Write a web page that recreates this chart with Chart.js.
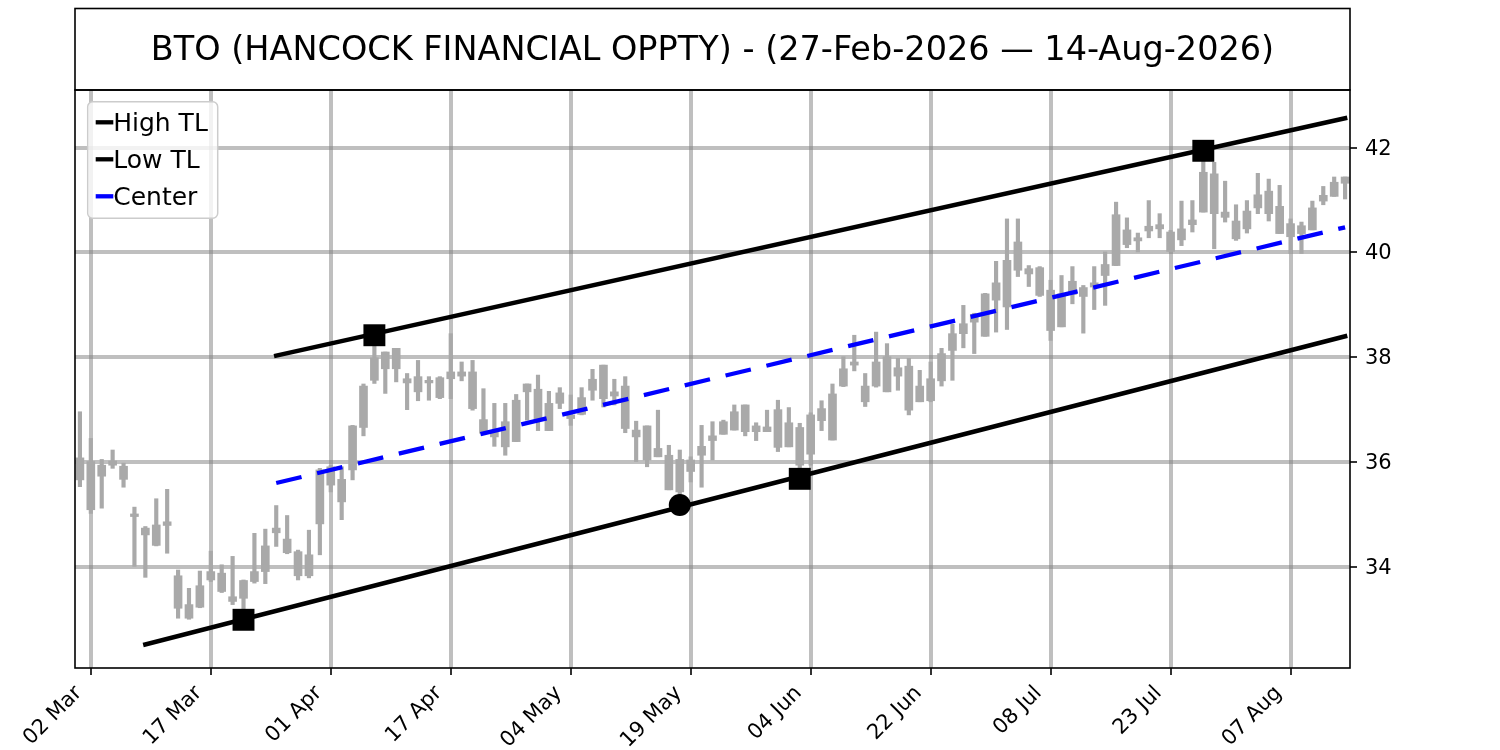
<!DOCTYPE html>
<html><head><meta charset="utf-8">
<script src="https://cdn.jsdelivr.net/npm/chart.js@4.4.1/dist/chart.umd.min.js"></script>
<style>html,body{margin:0;padding:0;background:#fff;}canvas{display:block;}</style>
</head><body>
<canvas id="c" width="1500" height="750"></canvas>
<script>
const titleText = 'BTO (HANCOCK FINANCIAL OPPTY) - (27-Feb-2026 \u2014 14-Aug-2026)';
const tickIndex = [1, 12, 23, 34, 45, 56, 67, 78, 89, 100, 111];
const tickLabels = ['02 Mar', '17 Mar', '01 Apr', '17 Apr', '04 May', '19 May', '04 Jun', '22 Jun', '08 Jul', '23 Jul', '07 Aug'];
const yTicks = [34, 36, 38, 40, 42];

const high = [36.96,36.45,36.05,36.23,35.98,35.14,34.77,35.30,35.48,33.94,
33.59,33.92,34.30,34.04,34.20,33.75,34.64,34.72,35.17,34.98,
34.32,34.70,35.88,35.94,35.91,36.70,37.49,38.42,38.10,38.17,
37.69,37.94,37.63,37.63,38.45,37.91,37.94,37.40,37.12,37.12,
37.29,37.49,37.66,37.35,37.42,37.28,37.42,37.77,37.85,37.58,
37.63,36.78,36.69,36.99,36.32,36.23,36.10,36.70,36.77,36.80,
37.09,37.09,36.75,36.99,37.18,37.04,36.74,36.94,37.17,37.49,
38.01,38.42,37.69,38.48,38.26,37.98,37.98,37.75,37.91,38.17,
38.63,38.99,38.84,39.22,39.83,40.64,40.64,39.75,39.73,39.47,
39.56,39.73,39.37,39.73,40.01,40.96,40.66,40.37,40.99,40.74,
40.42,40.98,40.99,41.94,41.72,41.36,40.91,40.99,41.51,41.40,
41.28,40.64,40.58,40.98,41.26,41.44,41.44];

const low = [35.53,35.02,35.12,35.88,35.52,34.01,33.80,34.40,34.26,33.02,
33.00,33.22,33.72,33.51,33.28,32.99,33.69,33.68,34.39,34.25,
33.75,33.79,34.23,35.43,34.90,35.66,36.50,37.50,37.31,37.53,
37.00,37.17,37.18,37.21,37.21,37.55,36.99,36.55,36.30,36.13,
36.39,36.80,36.60,36.60,37.02,36.70,36.90,37.18,37.05,37.09,
36.56,36.01,35.91,36.10,35.47,35.18,35.62,35.52,36.04,36.53,
36.61,36.50,36.41,36.58,36.20,36.29,35.68,35.94,36.60,36.42,
37.44,37.74,37.06,37.43,37.34,37.37,36.90,37.15,37.15,37.45,
37.56,38.18,38.07,38.40,38.48,38.53,39.54,39.35,39.16,38.32,
38.58,39.02,38.46,38.91,38.99,39.75,40.09,40.01,40.28,40.28,
40.01,40.13,40.39,40.77,40.07,40.58,40.23,40.37,40.74,40.60,
40.36,39.98,39.98,40.43,40.91,41.07,41.02];

const bodyTop = [36.08,36.01,35.94,36.02,35.92,35.01,34.74,34.80,34.86,33.83,
33.28,33.64,33.91,33.88,33.43,33.74,33.91,34.40,34.74,34.53,
34.29,34.23,35.85,35.91,35.67,36.69,37.45,37.99,38.10,38.17,
37.59,37.63,37.56,37.61,37.72,37.72,37.72,36.81,36.58,36.77,
37.18,37.49,37.39,37.12,37.32,36.90,37.23,37.58,37.85,37.34,
37.45,36.61,36.69,36.26,36.13,36.05,36.04,36.30,36.50,36.77,
36.96,37.09,36.69,36.67,37.00,36.75,36.66,36.90,37.02,37.30,
37.78,37.91,37.45,37.91,38.01,37.80,37.83,37.45,37.59,38.07,
38.45,38.64,38.82,39.21,39.42,39.85,40.20,39.69,39.71,39.28,
39.21,39.45,39.33,39.42,39.77,40.72,40.43,40.28,40.50,40.53,
40.39,40.45,40.62,41.53,41.50,40.77,40.60,40.79,41.10,41.17,
40.88,40.55,40.51,40.85,41.09,41.34,41.44];

const bodyBottom = [35.66,35.09,35.73,35.94,35.67,34.96,34.61,34.41,34.79,33.21,
33.02,33.23,33.75,33.53,33.34,33.40,33.72,33.91,34.65,34.27,
33.83,33.83,34.82,35.56,35.24,35.85,36.66,37.56,37.78,37.78,
37.51,37.34,37.51,37.23,37.59,37.64,37.02,36.55,36.48,36.29,
36.39,37.34,36.80,36.60,37.12,36.83,36.91,37.37,37.21,37.26,
36.64,36.48,36.04,36.10,35.47,35.43,35.82,36.13,36.41,36.53,
36.61,36.58,36.58,36.58,36.28,36.29,35.94,36.15,36.79,36.42,
37.45,37.85,37.15,37.45,37.34,37.64,36.99,37.15,37.17,37.55,
38.13,38.45,38.67,38.40,39.09,38.96,39.66,39.59,39.18,38.51,
38.58,39.20,39.16,39.34,39.56,39.75,40.15,40.22,40.41,40.45,
40.02,40.24,40.53,40.77,40.74,40.67,40.26,40.45,40.85,40.74,
40.36,40.30,40.36,40.43,40.98,41.07,41.32];

const highTLx = [18, 116];
const highTLy = [38.03, 42.56];
const lowTLx = [6, 116];
const lowTLy = [32.52, 38.40];
const centerX = [18, 116];
const centerY = [35.60, 40.48];
const pivotSquareX = [15, 27, 66, 103];
const pivotSquareY = [32.99, 38.42, 35.68, 41.94];
const pivotCircleX = [55];
const pivotCircleY = [35.18];

const FONT = 'DejaVu Sans';
const CANDLE = '#a9a9a9';
const GRID = 'rgba(128,128,128,0.5)';

const pts = (xs, ys) => xs.map((x, i) => ({x: x, y: ys[i]}));

const datasets = [
  {type: 'line', label: 'pivots', data: pts(pivotSquareX, pivotSquareY), showLine: false,
   pointStyle: 'rect', pointRadius: 15.5, pointHoverRadius: 15.5, pointBackgroundColor: '#000', pointBorderWidth: 0, order: 0},
  {type: 'line', label: 'pivot', data: pts(pivotCircleX, pivotCircleY), showLine: false,
   pointStyle: 'circle', pointRadius: 11, pointHoverRadius: 11, pointBackgroundColor: '#000', pointBorderWidth: 0, order: 0},
  {type: 'line', label: 'High TL', legend: true, data: pts(highTLx, highTLy), borderColor: '#000', borderWidth: 4.5,
   pointRadius: 0, borderCapStyle: 'square', order: 1},
  {type: 'line', label: 'Low TL', legend: true, data: pts(lowTLx, lowTLy), borderColor: '#000', borderWidth: 4.5,
   pointRadius: 0, borderCapStyle: 'square', order: 1},
  {type: 'line', label: 'Center', legend: true, data: pts(centerX, centerY), borderColor: '#0000ff', borderWidth: 4.3,
   borderDash: [26, 16], pointRadius: 0, borderCapStyle: 'butt', order: 1},
  {type: 'bar', label: 'body', data: bodyTop.map((t, i) => ({x: i, y: [bodyBottom[i], t]})),
   backgroundColor: CANDLE, borderWidth: 0, barThickness: 8, grouped: false, minBarLength: 1.5, order: 2},
  {type: 'bar', label: 'wick', data: high.map((h, i) => ({x: i, y: [low[i], h]})),
   backgroundColor: CANDLE, borderWidth: 0, barThickness: 3.5, grouped: false, order: 3}
];

const framePlugin = {
  id: 'frame',
  afterDraw(chart) {
    const {ctx, chartArea: a} = chart;
    ctx.save();
    ctx.strokeStyle = '#000';
    ctx.lineWidth = 1.6;
    ctx.strokeRect(a.left, a.top, a.right - a.left, a.bottom - a.top);
    ctx.strokeRect(a.left, 8.5, a.right - a.left, a.top - 8.5);
    // legend
    const items = chart.data.datasets.filter(d => d.legend);
    const bx = a.left + 12.7, by = a.top + 11.7, bw = 130, bh = 116.6, r = 5;
    ctx.beginPath();
    ctx.moveTo(bx + r, by);
    ctx.arcTo(bx + bw, by, bx + bw, by + bh, r);
    ctx.arcTo(bx + bw, by + bh, bx, by + bh, r);
    ctx.arcTo(bx, by + bh, bx, by, r);
    ctx.arcTo(bx, by, bx + bw, by, r);
    ctx.closePath();
    ctx.fillStyle = 'rgba(255,255,255,0.8)';
    ctx.fill();
    ctx.strokeStyle = '#cccccc';
    ctx.lineWidth = 1.5;
    ctx.stroke();
    ctx.font = '25px "' + FONT + '"';
    ctx.textBaseline = 'middle';
    ctx.textAlign = 'left';
    items.forEach((d, i) => {
      const y = by + 20.6 + i * 37;
      ctx.strokeStyle = d.borderColor;
      ctx.lineWidth = 4.3;
      ctx.setLineDash([]);
      ctx.beginPath();
      ctx.moveTo(bx + 8, y);
      ctx.lineTo(bx + 25.6, y);
      ctx.stroke();
      ctx.fillStyle = '#000';
      ctx.fillText(d.label, bx + 25.5, y + 2);
    });
    ctx.restore();
  }
};

const gridOpts = {color: GRID, lineWidth: 4, tickColor: '#000', tickWidth: 1.6, tickLength: 7, offset: false};

new Chart(document.getElementById('c'), {
  type: 'bar',
  data: {datasets: datasets},
  options: {
    responsive: false,
    animation: false,
    devicePixelRatio: 1,
    layout: {padding: {top: 8, left: 75, right: 0, bottom: 0}},
    plugins: {
      legend: {display: false},
      tooltip: {enabled: false},
      title: {display: true, text: titleText, fullSize: false, color: '#000',
        font: {family: FONT, size: 33.5, weight: 'normal'}, padding: {top: 23, bottom: 18.8}}
    },
    scales: {
      x: {
        type: 'linear', min: -0.45, max: 116.45, offset: false,
        afterBuildTicks: s => { s.ticks = tickIndex.map(v => ({value: v})); },
        afterFit: s => { s.height = 82; },
        ticks: {autoSkip: false, minRotation: 45, maxRotation: 45, color: '#000', padding: 6, labelOffset: -12,
          font: {family: FONT, size: 21}, callback: (v, i) => tickLabels[i]},
        grid: gridOpts,
        border: {display: false}
      },
      y: {
        type: 'linear', position: 'right', min: 32.07, max: 43.10,
        afterBuildTicks: s => { s.ticks = yTicks.map(v => ({value: v})); },
        afterFit: s => { s.width = 150; },
        ticks: {color: '#000', padding: 8, labelOffset: 1.5, font: {family: FONT, size: 21}, callback: v => String(v)},
        grid: gridOpts,
        border: {display: false}
      }
    }
  },
  plugins: [framePlugin]
});
</script>
</body></html>
